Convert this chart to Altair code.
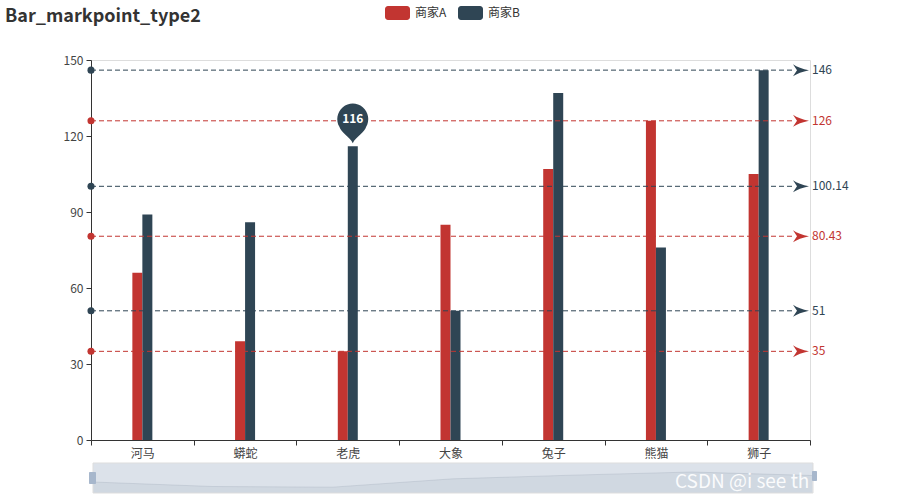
import altair as alt
import pandas as pd

# ---------------- data ----------------
categories = ["河马", "蟒蛇", "老虎", "大象", "兔子", "熊猫", "狮子"]
series_names = ["商家A", "商家B"]
series_a = [66, 39, 35, 85, 107, 126, 105]
series_b = [89, 86, 116, 51, 137, 76, 146]
series_colors = ["#c23531", "#2f4554"]
y_ticks = [0, 30, 60, 90, 120, 150]
markpoint_category = "老虎"
markpoint_series = "商家B"
markpoint_value = 116
title_text = "Bar_markpoint_type2"
watermark_text = "CSDN @i see th"

W, H = 719, 380
FONT = "Noto Sans CJK SC"
ARROW = "M8,0 Q-2,-2 -8,-6 L-4,0 L-8,6 Q-2,2 8,0 Z"
PIN = ("M0,-3 C-3,-9 -12,-14 -13.4,-19.3 "
       "A15.5,15.5 0 1 1 13.4,-19.3 C12,-14 3,-9 0,-3 Z")
BAND = W / len(categories)

bars_df = pd.DataFrame({
    "category": categories * 2,
    "series": [series_names[0]] * len(categories) + [series_names[1]] * len(categories),
    "value": series_a + series_b,
})

ml_rows = []
for name, vals, col in zip(series_names, [series_a, series_b], series_colors):
    for v in (min(vals), max(vals), round(sum(vals) / len(vals), 2)):
        ml_rows.append({"series": name, "value": v, "label": f"{v:g}", "color": col})
ml_df = pd.DataFrame(ml_rows)

pin_df = pd.DataFrame({"category": [markpoint_category], "series": [markpoint_series],
                       "value": [markpoint_value]})

shadow_df = pd.DataFrame({"idx": list(range(len(categories))), "value": series_a})
one = pd.DataFrame({"t": [title_text]})

# ---------------- encodings ----------------
x_enc = alt.X("category:N", sort=categories,
              scale=alt.Scale(domain=categories, paddingInner=0, paddingOuter=0),
              axis=alt.Axis(title=None, orient="bottom", labelAngle=0, tickBand="extent",
                            tickSize=5, labelPadding=3, labelFontSize=12, labelFont=FONT,
                            labelColor="#444", domainColor="#333", tickColor="#333",
                            grid=False))
xoff_enc = alt.XOffset("series:N", scale=alt.Scale(domain=series_names, paddingInner=0,
                                                  paddingOuter=0,
                                                  range=[BAND / 2 - 10, BAND / 2 + 10]))
y_enc = alt.Y("value:Q", scale=alt.Scale(domain=[0, 150], nice=False, zero=True),
              axis=alt.Axis(title=None, orient="left", values=y_ticks, grid=False,
                            tickSize=5, labelPadding=3, labelFontSize=12, labelFont=FONT,
                            labelColor="#444", domainColor="#333", tickColor="#333"))
color_enc = alt.Color("series:N", scale=alt.Scale(domain=series_names, range=series_colors),
                      legend=None)

bars = alt.Chart(bars_df).mark_bar().encode(x=x_enc, xOffset=xoff_enc, y=y_enc, color=color_enc)

ml_color = alt.Color("color:N", scale=None)
rules = alt.Chart(ml_df).mark_rule(strokeDash=[5, 3], strokeWidth=1).encode(
    x=alt.value(0), x2=alt.value(703), y=y_enc, color=ml_color)
circles = alt.Chart(ml_df).mark_circle(size=50, opacity=1).encode(
    x=alt.value(0), y=y_enc, color=ml_color)
arrows = alt.Chart(ml_df).mark_point(shape=ARROW, size=4, filled=True, opacity=1).encode(
    x=alt.value(710), y=y_enc, color=ml_color)
ml_labels = alt.Chart(ml_df).mark_text(align="left", baseline="middle", fontSize=12,
                                       font=FONT).encode(
    x=alt.value(721), y=y_enc, text="label:N", color=ml_color)

pin = alt.Chart(pin_df).mark_point(shape=PIN, size=4, filled=True, opacity=1,
                                   color=series_colors[1]).encode(
    x=x_enc, xOffset=xoff_enc, y=y_enc)
pin_text = alt.Chart(pin_df).mark_text(color="white", fontWeight="bold", fontSize=12,
                                       font=FONT, baseline="middle", dy=-27).encode(
    x=x_enc, xOffset=xoff_enc, y=y_enc, text="value:Q")

title = alt.Chart(one).mark_text(align="left", baseline="alphabetic", fontSize=18,
                                 fontWeight="bold", font=FONT, color="#333").encode(
    x=alt.value(-86), y=alt.value(-38), text="t:N")

legend_layers = []
for i, (name, col) in enumerate(zip(series_names, series_colors)):
    lx = 294 + i * 73
    ldf = pd.DataFrame({"name": [name]})
    legend_layers.append(alt.Chart(ldf).mark_rect(cornerRadius=3, color=col).encode(
        x=alt.value(lx), x2=alt.value(lx + 25), y=alt.value(-54), y2=alt.value(-40)))
    legend_layers.append(alt.Chart(ldf).mark_text(align="left", baseline="middle",
                                                  fontSize=12, font=FONT,
                                                  color="#333").encode(
        x=alt.value(lx + 30), y=alt.value(-47), text="name:N"))

main = alt.layer(bars, rules, circles, arrows, ml_labels, pin, pin_text, title,
                 *legend_layers)

# ---------------- slider (data zoom) ----------------
sx = alt.X("idx:Q", scale=alt.Scale(domain=[0, len(categories) - 1], range=[2, 721]),
           axis=None)
sy = alt.Y("value:Q", scale=alt.Scale(domain=[0, 180], range=[433, 403]), axis=None)
shadow_area = alt.Chart(shadow_df).mark_area(color="#2f4554", opacity=0.09).encode(
    x=sx, y=sy, y2=alt.value(433))
shadow_line = alt.Chart(shadow_df).mark_line(color="#2f4554", opacity=0.3,
                                             strokeWidth=0.5).encode(x=sx, y=sy)
shadow = alt.layer(shadow_area, shadow_line)

filler = alt.Chart(one).mark_rect(fill="#a7b7cb", fillOpacity=0.4, stroke="#dddddd",
                                  strokeWidth=1).encode(
    x=alt.value(2), x2=alt.value(722), y=alt.value(403), y2=alt.value(433))
handle_l = alt.Chart(one).mark_rect(fill="#a7b7cc", cornerRadius=1).encode(
    x=alt.value(-2), x2=alt.value(5), y=alt.value(412), y2=alt.value(424))
handle_r = alt.Chart(one).mark_rect(fill="#a7b7cc", cornerRadius=1).encode(
    x=alt.value(721), x2=alt.value(726), y=alt.value(411), y2=alt.value(421))
wm = alt.Chart(pd.DataFrame({"w": [watermark_text]})).mark_text(
    align="left", baseline="middle", fontSize=19, font=FONT, color="#ffffff",
    opacity=0.9).encode(x=alt.value(584), y=alt.value(422), text="w:N")
overlay = alt.layer(filler, handle_l, handle_r, wm)

chart = alt.layer(main, shadow, overlay).resolve_scale(
    x="independent", y="independent").properties(
    width=W, height=H,
    autosize=alt.AutoSizeParams(type="none"),
    padding={"left": 91, "top": 60, "right": 90, "bottom": 60},
).configure_view(stroke=None, strokeWidth=0).configure(font=FONT)

chart.save("out.html", embed_options={"renderer": "svg", "actions": False})
